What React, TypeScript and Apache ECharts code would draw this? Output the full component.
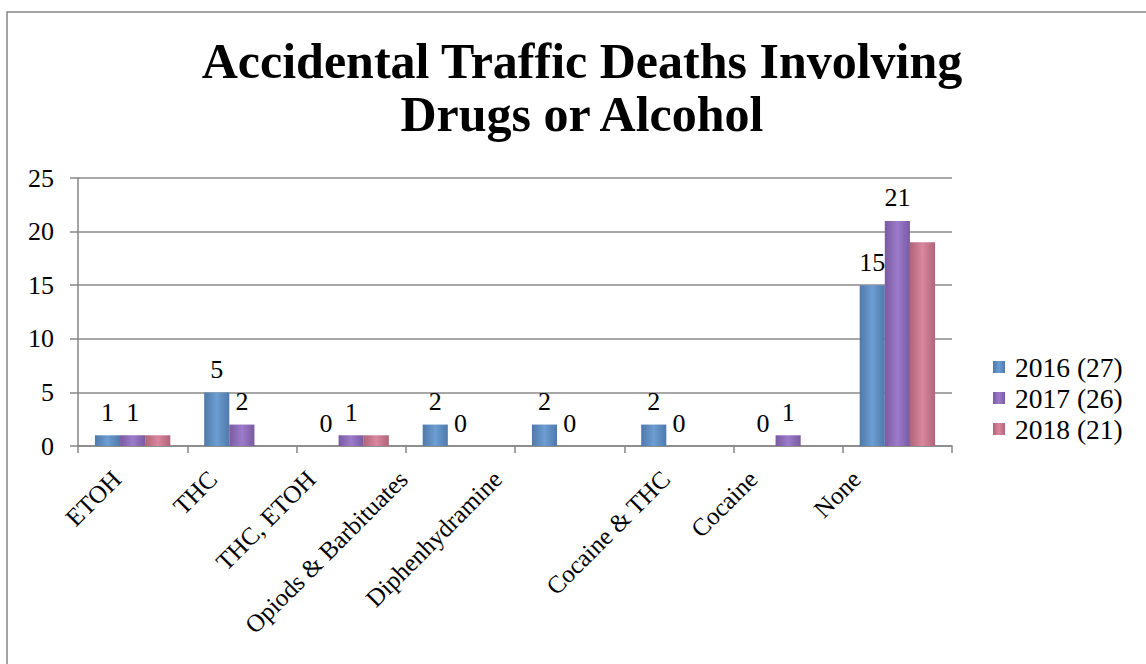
import React, { useEffect, useRef } from "react";
import * as echarts from "echarts";

const categories = [
  "ETOH",
  "THC",
  "THC, ETOH",
  "Opiods & Barbituates",
  "Diphenhydramine",
  "Cocaine & THC",
  "Cocaine",
  "None",
];
const seriesNames = ["2016 (27)", "2017 (26)", "2018 (21)"];
const values2016 = [1, 5, 0, 2, 2, 2, 0, 15];
const values2017 = [1, 2, 1, 0, 0, 0, 1, 21];
const values2018 = [1, 0, 1, 0, 0, 0, 0, 19];
const yTicks = { min: 0, max: 25, interval: 5 };

// styling only: horizontal nudge (px) of each rotated category label, as in the original layout
const labelNudge = [-16, -29, -40, -57, -72, -13, -35, -41];

const FONT = "'Liberation Serif', 'Times New Roman', serif";

function grad(edge: string, mid: string) {
  return new echarts.graphic.LinearGradient(0, 0, 1, 0, [
    { offset: 0, color: edge },
    { offset: 0.5, color: mid },
    { offset: 1, color: edge },
  ]);
}

export default function App() {
  const ref = useRef<HTMLDivElement>(null);
  useEffect(() => {
    if (!ref.current) return;
    const chart = echarts.init(ref.current, undefined, { renderer: "svg" });
    const labelStyle = {
      show: true,
      position: "top" as const,
      distance: 10,
      fontFamily: FONT,
      fontSize: 26,
      color: "#000",
    };
    const colors = [
      grad("#4f79aa", "#6d9dd2"),
      grad("#7a5aa0", "#9c7bcb"),
      grad("#b0647a", "#da879e"),
    ];
    const data = [values2016, values2017, values2018];
    const pads = labelNudge.map((s) => Math.abs(s) / Math.SQRT2);
    const catData = categories.map((c, i) => ({
      value: c,
      textStyle: { padding: [0, pads[i], 0, 0] },
    }));
    const rich: Record<string, any> = {};
    pads.forEach((p, i) => {
      rich["g" + i] = { fontSize: 1, lineHeight: Math.max(1, 2 * p) };
    });
    chart.setOption({
      animation: false,
      backgroundColor: "#ffffff",
      title: {
        text: "Accidental Traffic Deaths Involving\nDrugs or Alcohol",
        left: 577,
        top: 29,
        textAlign: "center",
        textStyle: {
          fontFamily: FONT,
          fontWeight: "bold",
          fontSize: 50,
          lineHeight: 53,
          color: "#000",
        },
      },
      graphic: [
        {
          type: "rect",
          shape: { x: 7, y: 12, width: 1160, height: 700 },
          style: { fill: "none", stroke: "#878787", lineWidth: 1.5 },
          silent: true,
        },
      ],
      legend: {
        orient: "vertical",
        left: 988,
        top: 348,
        itemWidth: 12,
        itemHeight: 12,
        itemGap: 3,
        icon: "rect",
        textStyle: {
          fontFamily: FONT,
          fontSize: 27.5,
          lineHeight: 27,
          color: "#000",
          padding: [0, 0, 0, 5],
        },
        data: seriesNames,
      },
      grid: {
        left: 78,
        right: 194,
        top: 178,
        bottom: 218,
        containLabel: false,
        outerBoundsMode: "none",
      },
      xAxis: {
        type: "category",
        data: catData,
        axisLine: { lineStyle: { color: "#868686", width: 1.5 } },
        axisTick: { show: true, length: 7, lineStyle: { color: "#868686", width: 1.5 } },
        axisLabel: {
          rotate: 45,
          interval: 0,
          margin: 29,
          fontFamily: FONT,
          fontSize: 25,
          lineHeight: 25,
          color: "#000",
          formatter: (v: string, i: number) => v + "\n{g" + i + "| }",
          rich,
        },
      },
      yAxis: {
        type: "value",
        min: yTicks.min,
        max: yTicks.max,
        interval: yTicks.interval,
        axisLine: { show: true, lineStyle: { color: "#868686", width: 1.5 } },
        axisTick: { show: true, length: 8, lineStyle: { color: "#868686", width: 1.5 } },
        splitLine: { lineStyle: { color: "#8a8a8a", width: 1.5 } },
        axisLabel: { margin: 24, fontFamily: FONT, fontSize: 26, color: "#000" },
      },
      series: seriesNames.map((name, i) => ({
        name,
        type: "bar",
        data: data[i],
        barGap: "0%",
        barCategoryGap: "31%",
        itemStyle: { color: colors[i] },
        label: i < 2 ? labelStyle : { show: false },
      })),
    });
    return () => chart.dispose();
  }, []);
  return (
    <div
      ref={ref}
      style={{ position: "absolute", left: 0, top: 0, width: 1146, height: 664 }}
    />
  );
}
